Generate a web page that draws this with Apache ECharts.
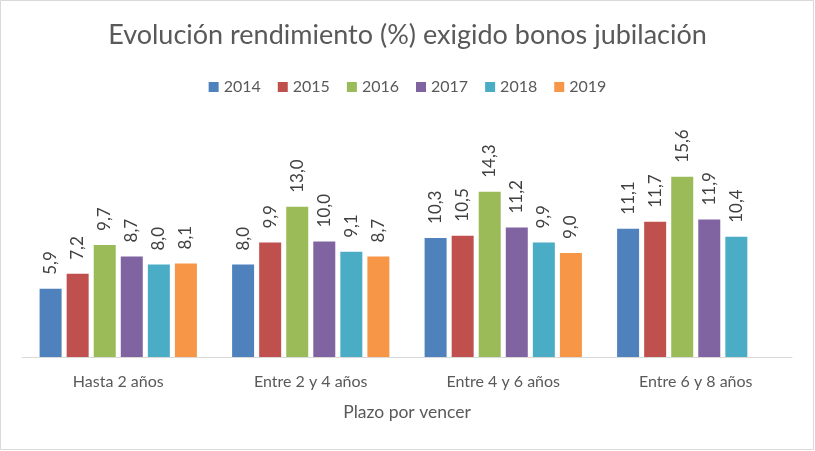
<!DOCTYPE html>
<html><head><meta charset="utf-8">
<script src="https://cdn.jsdelivr.net/npm/echarts@6/dist/echarts.min.js"></script>
<style>html,body{margin:0;padding:0;background:#fff}#c{width:815px;height:451px}</style>
</head><body><div id="c"></div>
<script>
const categories = ['Hasta 2 años', 'Entre 2 y 4 años', 'Entre 4 y 6 años', 'Entre 6 y 8 años'];
const seriesNames = ['2014', '2015', '2016', '2017', '2018', '2019'];
const v2014 = [5.9, 8.0, 10.3, 11.1];
const v2015 = [7.2, 9.9, 10.5, 11.7];
const v2016 = [9.7, 13.0, 14.3, 15.6];
const v2017 = [8.7, 10.0, 11.2, 11.9];
const v2018 = [8.0, 9.1, 9.9, 10.4];
const v2019 = [8.1, 8.7, 9.0, '-'];
const values = [v2014, v2015, v2016, v2017, v2018, v2019];
const colors = ['#4F81BD', '#C0504D', '#9BBB59', '#8064A2', '#4BACC6', '#F79646'];
const FONT = 'Lato, "Open Sans", sans-serif';

const chart = echarts.init(document.getElementById('c'), null, {renderer: 'canvas'});
chart.setOption({
  animation: false,
  backgroundColor: '#fff',
  color: colors,
  title: {
    text: 'Evolución rendimiento (%) exigido bonos jubilación',
    left: 'center', top: 17,
    textStyle: {fontFamily: FONT, fontSize: 27, fontWeight: 'normal', color: '#595959'}
  },
  legend: {
    top: 74, left: 'center',
    itemWidth: 10, itemHeight: 10, itemGap: 17,
    icon: 'rect',
    textStyle: {fontFamily: FONT, fontSize: 16, color: '#595959'},
    data: seriesNames
  },
  graphic: [{
    type: 'rect', shape: {x: 0.5, y: 0.5, width: 813, height: 449},
    style: {fill: 'none', stroke: '#d9d9d9', lineWidth: 1}, silent: true, z: 100
  }],
  grid: {left: 22, right: 23, top: 149, bottom: 94, containLabel: false},
  xAxis: {
    type: 'category', data: categories,
    name: 'Plazo por vencer', nameLocation: 'middle', nameGap: 46,
    nameTextStyle: {fontFamily: FONT, fontSize: 17.5, color: '#595959'},
    axisLine: {lineStyle: {color: '#d9d9d9', width: 1}},
    axisTick: {show: false},
    axisLabel: {fontFamily: FONT, fontSize: 16, color: '#595959', margin: 17}
  },
  yAxis: {
    type: 'value', min: 0, max: 18, interval: 2,
    show: false, splitLine: {show: false}
  },
  series: seriesNames.map((n, i) => ({
    name: n, type: 'bar', data: values[i],
    barWidth: 22, barGap: '23%',
    itemStyle: {color: colors[i]},
    label: {
      show: true, position: 'top', rotate: 90, align: 'left', verticalAlign: 'middle',
      distance: 14,
      fontFamily: FONT, fontSize: 17, color: '#404040',
      formatter: p => p.value.toFixed(1).replace('.', ',')
    }
  }))
});
</script></body></html>
